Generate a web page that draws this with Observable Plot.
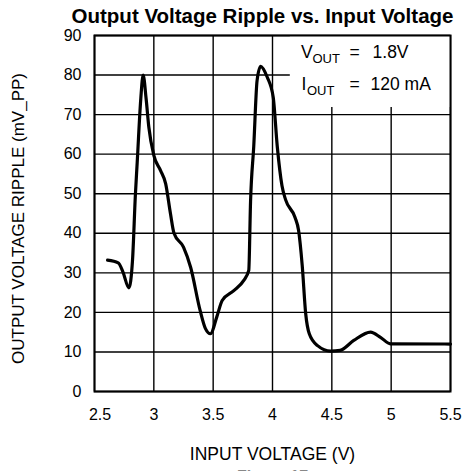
<!DOCTYPE html>
<html>
<head>
<meta charset="utf-8">
<script src="https://cdn.jsdelivr.net/npm/d3@7"></script>
<script src="https://cdn.jsdelivr.net/npm/@observablehq/plot@0.6"></script>
<style>
  html, body { margin: 0; padding: 0; background: #fff; overflow: hidden; }
</style>
</head>
<body>
<div id="chart"></div>
<script>
// Input voltage (V)
const vin = [2.61, 2.70, 2.74, 2.79, 2.82, 2.845, 2.86, 2.89, 2.91, 2.935, 2.958, 3.00, 3.056, 3.10, 3.14, 3.17, 3.25, 3.31, 3.39, 3.435, 3.477, 3.53, 3.576, 3.674, 3.758, 3.80, 3.815, 3.842, 3.87, 3.90, 3.955, 4.006, 4.04, 4.08, 4.11, 4.19, 4.22, 4.25, 4.28, 4.31, 4.38, 4.49, 4.57, 4.685, 4.826, 4.91, 4.994, 5.5];
// Output voltage ripple (mV pp)
const ripple = [33.2, 32.5, 30.2, 26.2, 33, 50, 58, 74, 80, 74, 66.8, 59.7, 55.9, 52.5, 45, 40, 36.5, 31.4, 20.5, 15.9, 14.6, 18.8, 23, 25.5, 28.1, 30.6, 48, 62, 78.6, 82.2, 79.5, 74.4, 62, 52, 48.5, 44, 40.7, 32, 19.6, 14.6, 11.6, 10.2, 10.4, 12.9, 15, 13.7, 12.06, 12];

const xTicks = [2.5, 3, 3.5, 4, 4.5, 5, 5.5];
const yTicks = [0, 10, 20, 30, 40, 50, 60, 70, 80, 90];

const titleText = "Output Voltage Ripple vs. Input Voltage";
const xLabel = "INPUT VOLTAGE (V)";
const yLabel = "OUTPUT VOLTAGE RIPPLE (mV_PP)";
const captionText = "Figure 17";
const vLine = ["V", "OUT", "=", "1.8V"];
const iLine = ["I", "OUT", "=", "120 mA"];

const data = vin.map((v, i) => ({v, r: ripple[i]}));

const one = (t) => [t];
const fmt = (d) => `${d}`;

const chart = Plot.plot({
  width: 471,
  height: 471,
  marginLeft: 94,
  marginRight: 21,
  marginTop: 35,
  marginBottom: 80,
  style: {fontFamily: "'Liberation Sans', Arial, sans-serif", fontSize: "16px", background: "#fff", color: "#000", overflow: "visible"},
  x: {domain: [2.5, 5.5]},
  y: {domain: [0, 90]},
  marks: [
    Plot.gridX(xTicks, {stroke: "#000", strokeOpacity: 1, strokeWidth: 1.4}),
    Plot.gridY(yTicks, {stroke: "#000", strokeOpacity: 1, strokeWidth: 1.4}),
    Plot.rect([null], {x1: () => 4.15, x2: () => 5.5, y1: () => 71.8, y2: () => 90, fill: "#fff"}),
    Plot.line(data, {x: "v", y: "r", curve: "monotone-x", stroke: "#000", strokeWidth: 3.2}),
    Plot.frame({stroke: "#000", strokeWidth: 2}),
    Plot.axisX(xTicks.slice(1), {tickSize: 0, tickPadding: 17, label: null, fontSize: 16, tickFormat: fmt}),
    Plot.axisX(xTicks.slice(0, 1), {tickSize: 0, tickPadding: 17, label: null, fontSize: 16, dx: 5.5, tickFormat: fmt}),
    Plot.axisY(yTicks, {tickSize: 0, tickPadding: 13, label: null, fontSize: 16, tickFormat: fmt}),
    // legend text
    Plot.text(one(vLine[0]), {x: () => 4.24, y: () => 85.8, text: d => d, textAnchor: "start", lineAnchor: "middle", fontSize: 17.5}),
    Plot.text(one(vLine[1]), {x: () => 4.337, y: () => 84.0, text: d => d, textAnchor: "start", lineAnchor: "middle", fontSize: 13}),
    Plot.text(one(vLine[2]), {x: () => 4.649, y: () => 85.8, text: d => d, textAnchor: "start", lineAnchor: "middle", fontSize: 17.5}),
    Plot.text(one(vLine[3]), {x: () => 4.843, y: () => 85.8, text: d => d, textAnchor: "start", lineAnchor: "middle", fontSize: 17.5, letterSpacing: "0.8px"}),
    Plot.text(one(iLine[0]), {x: () => 4.244, y: () => 77.6, text: d => d, textAnchor: "start", lineAnchor: "middle", fontSize: 17.5}),
    Plot.text(one(iLine[1]), {x: () => 4.29, y: () => 75.9, text: d => d, textAnchor: "start", lineAnchor: "middle", fontSize: 13}),
    Plot.text(one(iLine[2]), {x: () => 4.649, y: () => 77.6, text: d => d, textAnchor: "start", lineAnchor: "middle", fontSize: 17.5}),
    Plot.text(one(iLine[3]), {x: () => 4.826, y: () => 77.6, text: d => d, textAnchor: "start", lineAnchor: "middle", fontSize: 17.5, letterSpacing: "1px"}),
    // title and axis labels
    Plot.text(one(titleText), {frameAnchor: "top", text: d => d, dx: -10, dy: -19, lineAnchor: "middle", fontWeight: "bold", fontSize: 20.5}),
    Plot.text(one(xLabel), {frameAnchor: "bottom", text: d => d, dy: 63, lineAnchor: "middle", fontSize: 17.5}),
    Plot.text(one(yLabel), {frameAnchor: "left", text: d => d, dx: -76, dy: 5, rotate: -90, textAnchor: "middle", lineAnchor: "middle", fontSize: 17}),
    Plot.text(one(captionText), {frameAnchor: "bottom", text: d => d, dy: 85, lineAnchor: "middle", fontWeight: "bold", fontSize: 16, fill: "#888"})
  ]
});

document.getElementById("chart").appendChild(chart);
</script>
</body>
</html>
